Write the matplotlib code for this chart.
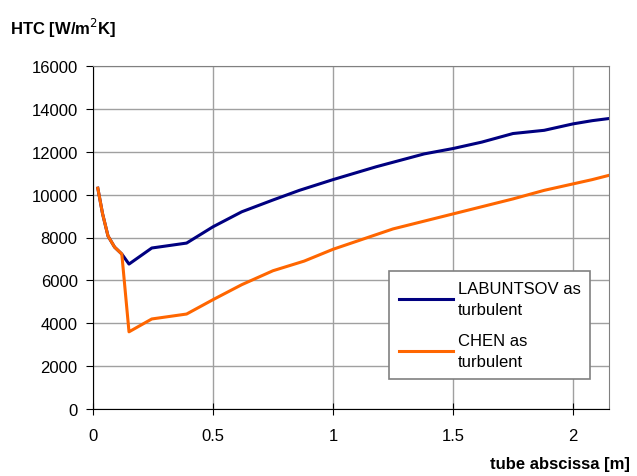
import numpy as np
import matplotlib
matplotlib.use("Agg")
import matplotlib.pyplot as plt

plt.rcParams['font.family'] = ['Liberation Sans', 'DejaVu Sans']

# data
x_lab = [0.02, 0.04, 0.0625, 0.09, 0.12, 0.15, 0.245, 0.39, 0.5, 0.62, 0.75, 0.86, 1.0, 1.18,
         1.38, 1.5, 1.62, 1.75, 1.88, 2.0, 2.08, 2.15]
htc_lab = [10300, 9100, 8070, 7550, 7230, 6760, 7510, 7740, 8500, 9200, 9750, 10200, 10700, 11300,
           11900, 12150, 12450, 12850, 13000, 13300, 13450, 13550]

x_chen = [0.02, 0.04, 0.0625, 0.09, 0.12, 0.15, 0.245, 0.39, 0.5, 0.62, 0.75, 0.88, 1.0, 1.25,
          1.5, 1.75, 1.88, 2.0, 2.08, 2.15]
htc_chen = [10300, 9100, 8070, 7550, 7230, 3600, 4200, 4430, 5100, 5800, 6450, 6900, 7450, 8400,
            9100, 9800, 10200, 10500, 10700, 10900]

fig = plt.figure(figsize=(6.37, 4.77), dpi=100)
ax = fig.add_axes([93/637, 1-410/477, (609-93)/637, (410-67)/477])

ax.plot(x_lab, htc_lab, color='#000080', lw=2.2, label='LABUNTSOV as\nturbulent')
ax.plot(x_chen, htc_chen, color='#ff6600', lw=2.2, label='CHEN as\nturbulent')

ax.set_xlim(0, 2.15)
ax.set_ylim(0, 16000)
ax.set_xticks([0, 0.5, 1, 1.5, 2])
ax.set_xticklabels(['0', '0.5', '1', '1.5', '2'])
ax.set_yticks(np.arange(0, 16001, 2000))
ax.grid(True, color='#a0a0a0', lw=1)
ax.set_axisbelow(True)

for s in ['top', 'right']:
    ax.spines[s].set_color('#808080')
for s in ['left', 'bottom']:
    ax.spines[s].set_color('black')
ax.tick_params(axis='y', direction='out', length=5, labelsize=12, pad=6)
ax.tick_params(axis='x', direction='inout', length=8, labelsize=12, pad=10)

leg = ax.legend(loc='lower left', bbox_to_anchor=(0.574, 0.088), borderaxespad=0, fontsize=12,
                frameon=True, fancybox=False, edgecolor='#808080', framealpha=1, handlelength=3.2,
                labelspacing=1.0, borderpad=0.6, handletextpad=0.3)
leg.get_frame().set_linewidth(1.2)
for t in leg.get_texts():
    t.set_linespacing(1.45)

fig.text(10/637, 1-28/477, 'HTC [W/m$^2$K]', fontsize=12, fontweight='bold', va='center', ha='left')
fig.text(630/637, 1-465/477, 'tube abscissa [m]', fontsize=12, fontweight='bold', va='center', ha='right')

fig.savefig('out.png', dpi=100)
